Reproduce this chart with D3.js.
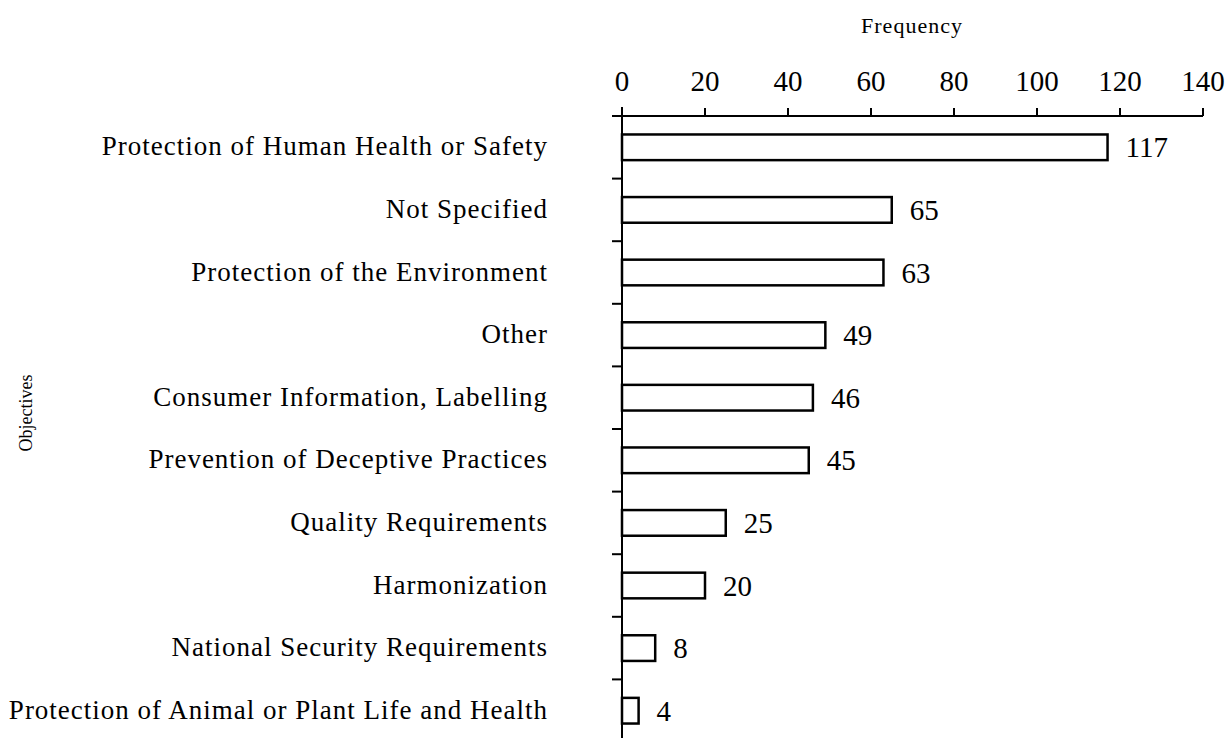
<!DOCTYPE html>
<html>
<head>
<meta charset="utf-8">
<script src="https://cdn.jsdelivr.net/npm/d3@7"></script>
<style>
  body { margin: 0; background: #fff; }
  svg text { font-family: "Liberation Serif", "Times New Roman", serif; fill: #000; }
</style>
</head>
<body>
<svg id="chart" width="1226" height="738"></svg>
<script>
const categories = [
    'Protection of Human Health or Safety',
    'Not Specified',
    'Protection of the Environment',
    'Other',
    'Consumer Information, Labelling',
    'Prevention of Deceptive Practices',
    'Quality Requirements',
    'Harmonization',
    'National Security Requirements',
    'Protection of Animal or Plant Life and Health',
];
const frequencies = [117, 65, 63, 49, 46, 45, 25, 20, 8, 4];
const xTicks = [0, 20, 40, 60, 80, 100, 120, 140];

const svg = d3.select('#chart');

const x = d3.scaleLinear().domain([0, 140]).range([622, 1203]);
const y = d3.scaleBand().domain(categories).range([116, 742]).paddingInner(0.59).paddingOuter(0.295);
// band boundaries (for the category ticks)
const step = y.step();
const bounds = d3.range(categories.length).map(i => 116 + i * step);

// top axis
const gx = svg.append('g');
gx.append('line')
    .attr('x1', 612).attr('x2', x(140))
    .attr('y1', 116).attr('y2', 116)
    .attr('stroke', '#000').attr('stroke-width', 2);
gx.selectAll('.xt').data(xTicks).join('line')
    .attr('x1', d => x(d)).attr('x2', d => x(d))
    .attr('y1', 108).attr('y2', 116)
    .attr('stroke', '#000').attr('stroke-width', 2);
gx.selectAll('.xl').data(xTicks).join('text')
    .attr('x', d => x(d)).attr('y', 91)
    .attr('text-anchor', 'middle')
    .attr('font-size', 29)
    .text(d => d);

svg.append('text')
    .attr('x', 912).attr('y', 33)
    .attr('text-anchor', 'middle')
    .attr('font-size', 22)
    .attr('letter-spacing', 1)
    .text('Frequency');

// left axis
svg.append('line')
    .attr('x1', 622).attr('x2', 622)
    .attr('y1', 107).attr('y2', 738)
    .attr('stroke', '#000').attr('stroke-width', 2);
svg.selectAll('.yt').data(bounds).join('line')
    .attr('x1', 612).attr('x2', 622)
    .attr('y1', d => d).attr('y2', d => d)
    .attr('stroke', '#000').attr('stroke-width', 2);

svg.selectAll('.cat').data(categories).join('text')
    .attr('x', 548)
    .attr('y', d => y(d) + y.bandwidth() / 2 + 8)
    .attr('text-anchor', 'end')
    .attr('font-size', 27)
    .attr('letter-spacing', 1)
    .text(d => d);

svg.append('text')
    .attr('transform', 'translate(32,413) rotate(-90)')
    .attr('text-anchor', 'middle')
    .attr('font-size', 18)
    .text('Objectives');

// bars
svg.selectAll('.bar').data(frequencies).join('rect')
    .attr('x', x(0))
    .attr('y', (d, i) => y(categories[i]))
    .attr('width', d => x(d) - x(0))
    .attr('height', y.bandwidth())
    .attr('fill', '#fff')
    .attr('stroke', '#000')
    .attr('stroke-width', 2.5);

svg.selectAll('.val').data(frequencies).join('text')
    .attr('x', d => x(d) + 18)
    .attr('y', (d, i) => y(categories[i]) + y.bandwidth() / 2 + 10)
    .attr('font-size', 29)
    .text(d => d);
</script>
</body>
</html>
